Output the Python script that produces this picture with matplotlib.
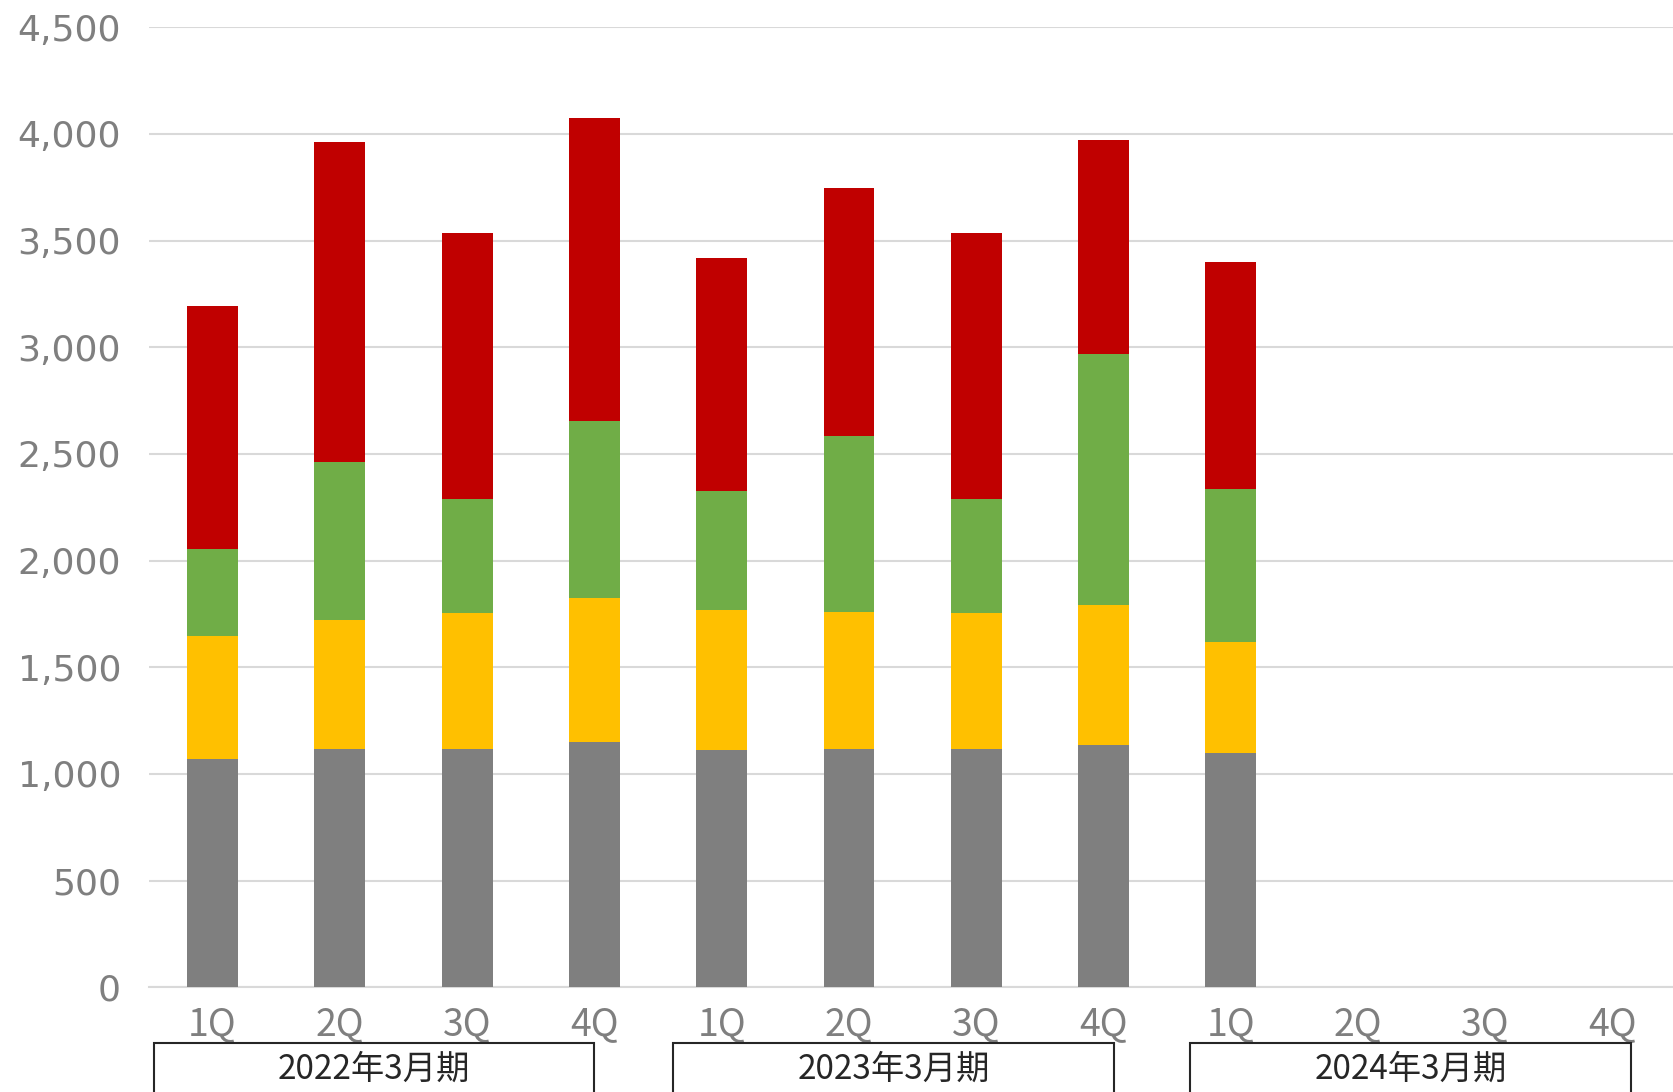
import matplotlib
matplotlib.use("Agg")
import matplotlib.pyplot as plt
from matplotlib.patches import Rectangle
import matplotlib.transforms as mtransforms

plt.rcParams['font.family'] = ['Noto Sans CJK JP', 'DejaVu Sans']

# データ (四半期ごとの積み上げ値)
quarters = ['1Q', '2Q', '3Q', '4Q'] * 3
gray_vals = [1070, 1115, 1115, 1150, 1110, 1115, 1115, 1135, 1100]
yellow_vals = [575, 605, 640, 675, 660, 645, 640, 655, 520]
green_vals = [410, 740, 535, 830, 555, 825, 535, 1180, 715]
red_vals = [1140, 1500, 1245, 1420, 1095, 1160, 1245, 1000, 1065]
periods = ['2022年3月期', '2023年3月期', '2024年3月期']

series = [gray_vals, yellow_vals, green_vals, red_vals]
colors = ['#7f7f7f', '#ffc000', '#70ad47', '#c00000']

fig = plt.figure(figsize=(16.73, 10.92), dpi=100)
ax = fig.add_axes([0.089, 0.096, 0.913, 0.879])

x = list(range(len(gray_vals)))
bottom = [0] * len(x)
for vals, c in zip(series, colors):
    ax.bar(x, vals, width=0.4, bottom=bottom, color=c, zorder=3)
    bottom = [b + v for b, v in zip(bottom, vals)]

ax.set_xlim(-0.5, 11.5)
ax.set_ylim(0, 4500)
ax.set_yticks(range(0, 4501, 500))
ax.set_yticklabels([f'{v:,}' for v in range(0, 4501, 500)])
ax.set_xticks(range(12))
ax.set_xticklabels(quarters)

ax.grid(axis='y', color='#d9d9d9', linewidth=1.5, zorder=0)
for s in ['left', 'right', 'top']:
    ax.spines[s].set_visible(False)
ax.spines['bottom'].set_color('#d9d9d9')
ax.spines['bottom'].set_linewidth(1.5)
ax.tick_params(axis='both', length=0, colors='#7f7f7f')
ax.tick_params(axis='y', pad=20, labelsize=26)
ax.tick_params(axis='x', pad=13, labelsize=27)
for lbl in ax.get_yticklabels():
    lbl.set_family(['DejaVu Sans'])

# 年度ラベルの枠
trans = mtransforms.blended_transform_factory(ax.transData, fig.transFigure)
box_left = [-0.46, 3.62, 7.68]
for left, label in zip(box_left, periods):
    rect = Rectangle((left, -0.02), 3.46, 0.065, transform=trans,
                     fill=False, edgecolor='#262626', linewidth=1.5, clip_on=False)
    fig.add_artist(rect)
    ax.text(left + 1.73, 0.021, label, transform=trans, ha='center', va='center',
            fontsize=24, color='#262626')

fig.savefig('out.png', dpi=100)
